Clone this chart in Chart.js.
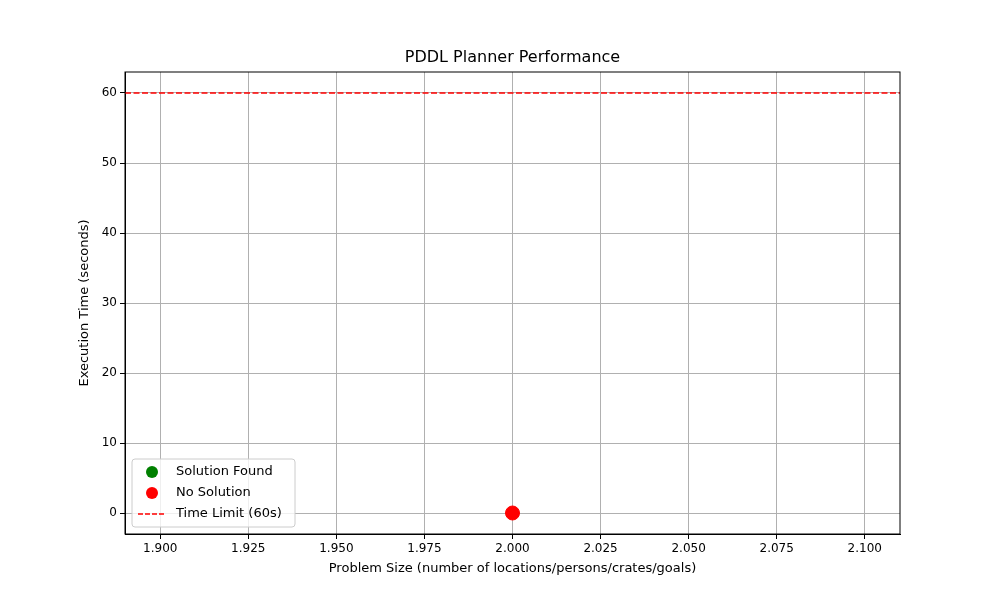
<!DOCTYPE html>
<html><head><script src="https://cdn.jsdelivr.net/npm/chart.js@4"></script>
<style>body{margin:0;background:#fff}#w{width:1000px;height:600px}</style></head>
<body><div id="w"><canvas id="c"></canvas></div>
<script>
const solvedX = [];
const solvedY = [];
const failedX = [2.0];
const failedY = [0];
const timeLimit = 60;
const xTicks = [1.9,1.925,1.95,1.975,2.0,2.025,2.05,2.075,2.1];
const yTicks = [0,10,20,30,40,50,60];
const chartTitle = 'PDDL Planner Performance';
const xTitle = 'Problem Size (number of locations/persons/crates/goals)';
const yTitle = 'Execution Time (seconds)';
const legendItems = [
  {label:'Solution Found', type:'dot', color:'green'},
  {label:'No Solution', type:'dot', color:'red'},
  {label:'Time Limit (60s)', type:'dash', color:'red'}
];
const F = "'DejaVu Sans', sans-serif";
const decor = {
  id:'decor',
  afterDraw(ch){
    const c=ch.ctx, a=ch.chartArea;
    c.save();
    c.strokeStyle='#000';c.lineWidth=1;c.strokeRect(a.left,a.top,a.right-a.left,a.bottom-a.top);
    c.fillStyle='#000';c.textAlign='center';c.textBaseline='middle';
    const cx=(a.left+a.right)/2;
    c.font='16px '+F;c.fillText(chartTitle,cx,58);
    c.font='13px '+F;c.fillText(xTitle,cx,569);
    c.save();c.translate(85,(a.top+a.bottom)/2);c.rotate(-Math.PI/2);c.fillText(yTitle,0,0);c.restore();
    const x0=a.left+7, y0=a.bottom-75, w=163, h=68;
    c.textAlign='left';
    c.fillStyle='rgba(255,255,255,0.8)';c.strokeStyle='#ccc';
    c.beginPath();c.roundRect(x0,y0,w,h,3);c.fill();c.stroke();
    c.font='13px '+F;
    legendItems.forEach((it,i)=>{
      const y=y0+13+i*21;
      if(it.type==='dot'){c.fillStyle=it.color;c.beginPath();c.arc(x0+20,y,6,0,Math.PI*2);c.fill();}
      else{c.strokeStyle=it.color;c.lineWidth=1.5;c.setLineDash([5,2]);c.beginPath();c.moveTo(x0+6,y);c.lineTo(x0+34,y);c.stroke();c.setLineDash([]);}
      c.fillStyle='#000';c.fillText(it.label,x0+44,y);
    });
    c.restore();
  }
};
new Chart(document.getElementById('c'),{
  type:'scatter',
  data:{datasets:[
    {label:'Solution Found',data:solvedX.map((x,i)=>({x,y:solvedY[i]})),backgroundColor:'green',pointRadius:7},
    {label:'No Solution',data:failedX.map((x,i)=>({x,y:failedY[i]})),backgroundColor:'red',borderColor:'red',pointRadius:7},
    {label:'Time Limit (60s)',type:'line',data:[{x:1.89,y:timeLimit},{x:2.11,y:timeLimit}],borderColor:'red',borderWidth:1.5,borderDash:[6,2.5],pointRadius:0}
  ]},
  options:{
    responsive:true,maintainAspectRatio:false,animation:false,
    layout:{padding:{left:0,right:100,top:72,bottom:0}},
    plugins:{legend:{display:false},tooltip:{enabled:false},title:{display:false}},
    scales:{
      x:{type:'linear',min:1.89,max:2.11,
        afterBuildTicks:s=>{s.ticks=xTicks.map(v=>({value:v}));},
        afterFit:s=>{s.height=66;},
        ticks:{callback:v=>v.toFixed(3),color:'#000',font:{family:F,size:12},maxRotation:0,autoSkip:false},
        grid:{color:'#b0b0b0',tickColor:'#000',tickLength:5},border:{color:'#000'}},
      y:{min:-3,max:63,
        afterBuildTicks:s=>{s.ticks=yTicks.map(v=>({value:v}));},
        afterFit:s=>{s.width=125;},
        ticks:{color:'#000',font:{family:F,size:12}},
        grid:{color:'#b0b0b0',tickColor:'#000',tickLength:5},border:{color:'#000'}}
    }
  },
  plugins:[decor]
});
</script></body></html>
